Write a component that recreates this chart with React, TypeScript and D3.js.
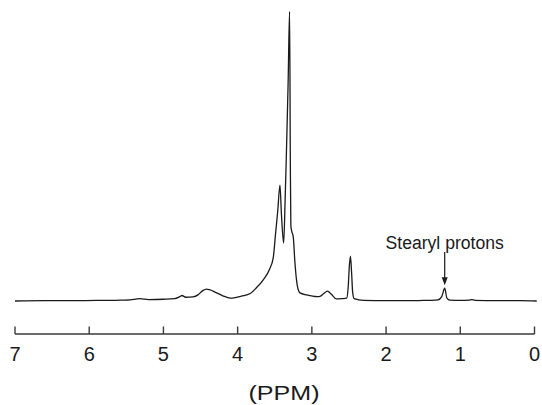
import React from 'react';
import * as d3 from 'd3';

// chemical shift (ppm) and relative intensity
const shiftPpm = [
  7.0, 6.6, 6.2, 5.9, 5.7, 5.55, 5.45, 5.32, 5.2, 5.0, 4.85, 4.78, 4.75, 4.7, 4.6, 4.53,
  4.47, 4.42, 4.38, 4.3, 4.2, 4.1, 4.05, 3.95, 3.83, 3.75, 3.65, 3.57, 3.52, 3.49, 3.46,
  3.43, 3.41, 3.38, 3.36, 3.345, 3.32, 3.30, 3.29, 3.283, 3.27, 3.25, 3.23, 3.21, 3.19,
  3.16, 3.07, 2.93, 2.89, 2.84, 2.79, 2.74, 2.67, 2.6, 2.53, 2.51, 2.495, 2.48, 2.465,
  2.45, 2.43, 2.3, 2.0, 1.7, 1.5, 1.3, 1.25, 1.21, 1.18, 1.14, 1.0, 0.88, 0.85, 0.8, 0.5,
  0.2, -0.03,
];
const intensity = [
  0.0, 0.1, 0.1, 0.2, 0.2, 0.3, 0.4, 0.8, 0.5, 0.6, 0.8, 1.5, 1.9, 1.3, 1.4, 2.2,
  3.6, 4.1, 3.9, 3.0, 1.8, 1.0, 1.1, 1.7, 2.6, 4.5, 7.5, 11, 15, 23, 31,
  40, 30, 20, 35, 49, 75, 100, 48, 26, 24, 22, 14, 8, 4.5,
  2.8, 2.1, 1.5, 1.6, 2.6, 3.4, 2.4, 0.7, 0.8, 1.0, 5, 12, 15.5, 10,
  3, 0.8, 0.2, 0.1, 0.1, 0.2, 0.4, 1.5, 4.4, 1.0, 0.3, 0.2, 0.3, 0.5, 0.2, 0.1,
  0.1, 0.0,
];
const tickValues = [7, 6, 5, 4, 3, 2, 1, 0];
const annotationText = 'Stearyl protons';
const annotationPpm = 1.21;
const axisTitle = '(PPM)';

const W = 542;
const H = 405;

export default function App() {
  const x = d3.scaleLinear().domain([7, 0]).range([15, 534.5]);
  const y = d3.scaleLinear().domain([0, 100]).range([301, 11.5]);
  const pts: [number, number][] = shiftPpm.map((p, i) => [p, intensity[i]]);
  const line = d3
    .line<[number, number]>()
    .x((d) => x(d[0]))
    .y((d) => y(d[1]))
    .curve(d3.curveMonotoneX);

  const axisY = 334;
  const ax = x(annotationPpm);
  const tipY = y(4.4) - 3;

  return (
    <svg
      width={W}
      height={H}
      style={{ position: 'absolute', left: 0, top: 0, background: '#fff' }}
      fontFamily="'Liberation Sans', Arial, Helvetica, sans-serif"
    >
      <path
        d={line(pts.slice().sort((a, b) => a[0] - b[0])) || ''}
        fill="none"
        stroke="#1a1a1a"
        strokeWidth={1.3}
        strokeLinejoin="round"
      />

      {/* x axis */}
      <line x1={x(7)} x2={x(0)} y1={axisY} y2={axisY} stroke="#3a3a3a" strokeWidth={1.4} />
      {tickValues.map((t) => (
        <g key={t}>
          <line x1={x(t)} x2={x(t)} y1={axisY} y2={axisY - 7.5} stroke="#3a3a3a" strokeWidth={1.4} />
          <text x={x(t)} y={361} fontSize={20} textAnchor="middle" fill="#1a1a1a">
            {t}
          </text>
        </g>
      ))}
      <text x={284} y={399.5} fontSize={20} textAnchor="middle" textLength={71} lengthAdjust="spacingAndGlyphs" fill="#1a1a1a">
        {axisTitle}
      </text>

      {/* annotation */}
      <text x={ax} y={249} fontSize={17.6} textAnchor="middle" fill="#1a1a1a">
        {annotationText}
      </text>
      <line x1={ax} x2={ax} y1={252} y2={tipY - 6} stroke="#1a1a1a" strokeWidth={1.2} />
      <path d={`M${ax - 3},${tipY - 8} L${ax + 3},${tipY - 8} L${ax},${tipY} Z`} fill="#1a1a1a" />
    </svg>
  );
}
